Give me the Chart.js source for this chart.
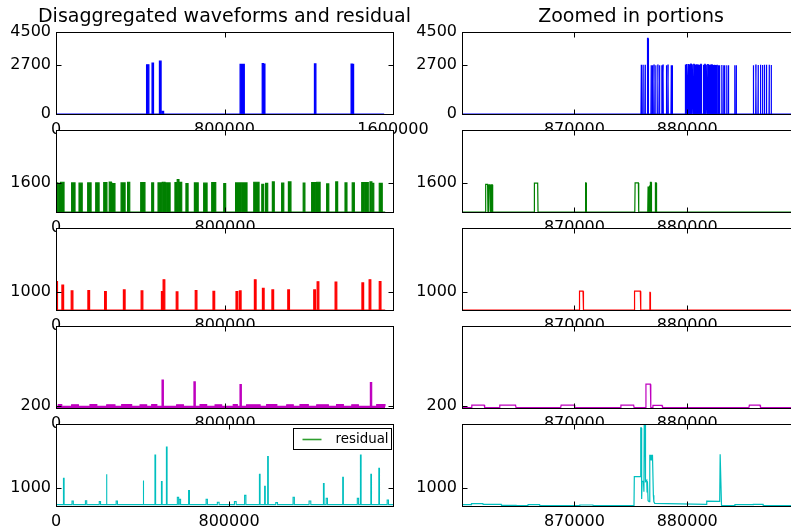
<!DOCTYPE html>
<html>
<head>
<meta charset="utf-8">
<script src="https://cdn.jsdelivr.net/npm/chart.js@4.4.1/dist/chart.umd.min.js"></script>
<style>
  html, body { margin: 0; padding: 0; background: #fff; overflow: hidden; width: 791px; height: 532px; }
  canvas { position: absolute; }
</style>
</head>
<body>
<script>
// ---- tick values ----
const fullXTicks = [0, 800000, 1600000];
const leftXTicks = [0, 800000];
const zoomXTicks = [870000, 880000];
const blueYTicks = [0, 2700, 4500];
const greenYTicks = [1600];
const redYTicks = [1000];
const magentaYTicks = [200];
const residualYTicks = [1000];

// ---- appliance 1 (blue) ----
const blueFullOn  = [430000, 456000, 491000, 505000, 874000, 979000, 986000, 1227000, 1401000, 1408000];
const blueFullOff = [441000, 463000, 499000, 511000, 894000, 985000, 992000, 1234000, 1407000, 1413000];
const blueFullH   = [2700, 2790, 2900, 150, 2720, 2760, 2740, 2750, 2740, 2720];

const blueZoomOn  = [875900, 876060, 876240, 876450, 876780, 876900, 877040, 877190, 877380, 877530, 877730, 877840,
  878140, 878280, 878560, 878660, 879810, 879900, 880060, 880160, 880300, 880420, 880560, 880700, 880820, 880940,
  881060, 881180, 881410, 881540, 881660, 881800, 881920, 882040, 882160, 882280, 882400, 882520, 882620, 882740,
  882840, 883040, 883200, 883300, 883490, 883640, 884200, 884330, 885850, 886070, 886270, 886480, 886660, 886830,
  887010, 887250, 887430];
const blueZoomOff = [875960, 876110, 876300, 876560, 876830, 876940, 877080, 877230, 877420, 877570, 877770, 877880,
  878180, 878320, 878600, 878700, 879860, 880000, 880120, 880260, 880380, 880520, 880640, 880780, 880900, 881020,
  881140, 881270, 881500, 881620, 881760, 881880, 882000, 882120, 882240, 882360, 882480, 882580, 882680, 882800,
  882890, 883100, 883260, 883340, 883530, 883680, 884240, 884370, 885890, 886110, 886310, 886520, 886700, 886870,
  887050, 887290, 887470];
const blueZoomH   = [2700, 2700, 2700, 4150, 2680, 2680, 2680, 2680, 2680, 2680, 2680, 2680,
  2680, 2680, 2680, 2680, 2720, 2740, 2740, 2730, 2740, 2720, 2730, 2720, 2700, 2720,
  2700, 2720, 2700, 2720, 2700, 2710, 2700, 2720, 2700, 2690, 2700, 2690, 2700, 2680,
  2680, 2690, 2680, 2680, 2680, 2680, 2680, 2680, 2680, 2680, 2690, 2700, 2690, 2700,
  2700, 2700, 2690];

// ---- appliance 2 (green) ----
const greenFullOn  = [0, 10000, 22000, 74000, 109000, 150000, 188000, 226000, 252000, 264000, 308000, 339000,
  401000, 453000, 483000, 503000, 521000, 563000, 574000, 587000, 615000, 655000, 699000, 737000, 794000,
  850000, 884000, 936000, 974000, 992000, 1024000, 1068000, 1100000, 1170000, 1210000, 1234000, 1281000,
  1324000, 1368000, 1402000, 1447000, 1466000, 1486000, 1496000, 1530000];
const greenFullOff = [8000, 20000, 38000, 90000, 124000, 166000, 204000, 241000, 262000, 279000, 327000, 349000,
  421000, 462000, 500000, 516000, 540000, 573000, 582000, 595000, 625000, 673000, 715000, 756000, 803000,
  879000, 904000, 961000, 983000, 1002000, 1033000, 1078000, 1112000, 1178000, 1229000, 1250000, 1291000,
  1333000, 1377000, 1412000, 1462000, 1478000, 1495000, 1504000, 1544000];
const greenFullH   = [1600, 1580, 1640, 1600, 1590, 1600, 1600, 1620, 1650, 1570, 1600, 1640,
  1620, 1600, 1600, 1640, 1600, 1620, 1780, 1630, 1570, 1600, 1590, 1620, 1560,
  1600, 1600, 1640, 1530, 1580, 1660, 1590, 1660, 1590, 1620, 1640, 1550,
  1660, 1600, 1600, 1620, 1620, 1660, 1580, 1580];

const greenZoomOn  = [862100, 862400, 862620, 866420, 870960, 875350, 876500, 876620, 876720, 877150];
const greenZoomOff = [862330, 862560, 862750, 866770, 871060, 875700, 876580, 876700, 876830, 877280];
const greenZoomH   = [1520, 1490, 1500, 1590, 1600, 1600, 1410, 1460, 1640, 1600];

// ---- appliance 3 (red) ----
const redFullOn  = [0, 28000, 72000, 151000, 230000, 319000, 403000, 499000, 507000, 569000, 659000, 743000,
  852000, 868000, 939000, 977000, 1022000, 1097000, 1220000, 1236000, 1321000, 1448000, 1482000, 1530000];
const redFullOff = [7000, 36000, 80000, 159000, 238000, 327000, 411000, 507000, 515000, 577000, 667000, 751000,
  860000, 876000, 947000, 985000, 1030000, 1105000, 1228000, 1244000, 1329000, 1456000, 1490000, 1538000];
const redFullH   = [1600, 1400, 1075, 1095, 1040, 1130, 1075, 1040, 1700, 1020, 1095, 1057,
  1040, 1075, 1700, 1226, 1130, 1130, 1130, 1585, 1566, 1528, 1700, 1600];

const redZoomOn  = [870410, 875290, 876650];
const redZoomOff = [870800, 875880, 876740];
const redZoomH   = [1060, 1060, 1000];

// ---- appliance 4 (magenta) ----
const magentaFullOn  = [11000, 74000, 161000, 240000, 311000, 398000, 453000, 502000, 571000, 653000, 682000,
  753000, 839000, 871000, 902000, 997000, 1092000, 1155000, 1234000, 1328000, 1400000, 1488000, 1518000];
const magentaFullOff = [27000, 106000, 193000, 279000, 358000, 429000, 477000, 508000, 603000, 659000, 713000,
  784000, 858000, 877000, 966000, 1045000, 1123000, 1194000, 1289000, 1360000, 1431000, 1494000, 1557000];
const magentaFullH   = [270, 265, 270, 265, 270, 265, 270, 1616, 265, 1523, 270,
  265, 270, 1375, 265, 270, 265, 270, 265, 270, 265, 1485, 270];

const magentaZoomOn  = [860860, 863340, 868780, 874080, 876300, 876920, 885470];
const magentaZoomOff = [862040, 864820, 870030, 875290, 876770, 877810, 886500];
const magentaZoomH   = [250, 245, 250, 250, 1395, 230, 245];

// ---- residual (cyan) ----
const residualFullOn  = [0, 34500, 74000, 136000, 200000, 232500, 278000, 402500, 457500, 487500, 510500, 561000,
  570000, 613000, 694000, 746000, 825000, 872000, 940500, 964500, 978500, 1016000, 1096000, 1170000, 1236500,
  1249000, 1325500, 1393000, 1407500, 1455500, 1492500, 1531000];
const residualFullOff = [3000, 37500, 80000, 142000, 206000, 235500, 284000, 405500, 460500, 490500, 513500, 567000,
  576000, 617000, 700000, 754000, 833000, 878000, 943500, 967500, 981500, 1024000, 1102000, 1178000, 1239500,
  1255000, 1328500, 1399000, 1410500, 1458500, 1495500, 1537000];
const residualFullH   = [900, 1566, 280, 300, 245, 1790, 280, 1430, 2870, 1380, 3320, 490,
  380, 870, 380, 210, 245, 600, 1790, 1110, 2790, 190, 490, 280, 1265,
  435, 1620, 435, 2870, 1790, 2130, 340];

const residualZoomX = [860000, 860850, 860870, 861880, 861900, 863510, 863530, 864840, 864860, 865870, 865890,
  866910, 866930, 870460, 870480, 871640, 871660, 875280, 875310, 875850, 875880, 875930, 875960, 876000,
  876120, 876160, 876190, 876260, 876300, 876410, 876440, 876470, 876530, 876620, 876680, 876740, 876790,
  876850, 876920, 877000, 877040, 877120, 881700, 881730, 882880, 882920, 882990, 883040, 883100, 884210,
  884230, 885840, 885860, 886720, 886740, 890000];
const residualZoomY = [75, 75, 132, 132, 94, 94, 38, 38, 19, 19, 75,
  75, 19, 19, 57, 57, 19, 19, 1660, 1660, 4400, 4400, 400, 1380,
  1400, 800, 4800, 4800, 1380, 1450, 800, 1400, 300, 250, 2850, 2850, 2600,
  2850, 2850, 600, 250, 150, 90, 280, 265, 2920, 2920, 40, 19, 19,
  75, 75, 94, 94, 19, 19];

// build a step trace from pulse lists
function pulseLine(start, end, on, off, peak, base, ramp) {
  const pts = [{x: start, y: base}];
  on.forEach((x0, i) => {
    pts.push({x: x0, y: base}, {x: x0 + ramp, y: peak[i]},
             {x: off[i] - ramp, y: peak[i]}, {x: off[i], y: base});
  });
  pts.push({x: end, y: base});
  return pts;
}

const axesFrame = {
  id: 'axesFrame',
  beforeDraw(chart) {
    const {ctx, chartArea: a} = chart;
    ctx.save();
    ctx.fillStyle = '#fff';
    ctx.fillRect(a.left, a.top, a.right - a.left, a.bottom - a.top);
    ctx.restore();
  },
  afterDraw(chart) {
    const {ctx, chartArea: a, scales: {x, y}} = chart;
    const L = Math.round(a.left) + 0.5, R = Math.round(a.right) + 0.5;
    const T = Math.round(a.top) + 0.5, B = Math.round(a.bottom) + 0.5;
    ctx.save();
    ctx.strokeStyle = '#000';
    ctx.lineWidth = 1;
    ctx.beginPath();
    x.ticks.forEach(t => {
      const p = Math.round(x.getPixelForValue(t.value)) + 0.5;
      ctx.moveTo(p, T); ctx.lineTo(p, T + 5);
      ctx.moveTo(p, B); ctx.lineTo(p, B - 5);
    });
    y.ticks.forEach(t => {
      const p = Math.round(y.getPixelForValue(t.value)) + 0.5;
      ctx.moveTo(L, p); ctx.lineTo(L + 5, p);
      ctx.moveTo(R, p); ctx.lineTo(R - 5, p);
    });
    ctx.stroke();
    ctx.strokeRect(L, T, R - L, B - T);
    // column title, centred over the axes, not squeezed to the axes width
    const title = chart.options.plugins.axesFrame && chart.options.plugins.axesFrame.title;
    if (title) {
      ctx.fillStyle = '#000';
      ctx.font = '19px "DejaVu Sans"';
      ctx.textAlign = 'center';
      ctx.textBaseline = 'alphabetic';
      ctx.fillText(title, (a.left + a.right) / 2, a.top - 10.5);
    }
    ctx.restore();
  }
};

const residualLegend = {
  id: 'residualLegend',
  afterDraw(chart) {
    const {ctx, chartArea: a} = chart;
    const bx = Math.round(a.right - 100.5) + 0.5, by = Math.round(a.top + 4) + 0.5;
    ctx.save();
    ctx.fillStyle = '#fff';
    ctx.fillRect(bx, by, 98, 21);
    ctx.strokeStyle = '#000';
    ctx.lineWidth = 1;
    ctx.strokeRect(bx, by, 98, 21);
    ctx.strokeStyle = '#2e9e2e';
    ctx.lineWidth = 1.6;
    ctx.beginPath();
    ctx.moveTo(bx + 9, by + 11); ctx.lineTo(bx + 28, by + 11);
    ctx.stroke();
    ctx.fillStyle = '#000';
    ctx.font = '13.4px "DejaVu Sans"';
    ctx.textBaseline = 'middle';
    ctx.fillText('residual', bx + 42, by + 11);
    ctx.restore();
  }
};

Chart.defaults.font.family = '"DejaVu Sans", sans-serif';
Chart.defaults.font.size = 16;
Chart.defaults.color = '#000';

function panel(cfg) {
  const cv = document.createElement('canvas');
  cv.width = cfg.w; cv.height = cfg.h;
  cv.style.left = cfg.left + 'px'; cv.style.top = cfg.top + 'px';
  document.body.appendChild(cv);
  const plugins = [axesFrame];
  if (cfg.legend) plugins.push(residualLegend);
  new Chart(cv, {
    type: 'line',
    data: { datasets: [{
      data: cfg.data,
      borderColor: cfg.color,
      backgroundColor: cfg.color,
      borderWidth: cfg.lw || 1.2,
      fill: cfg.fill || false,
      pointRadius: 0,
      tension: 0
    }]},
    options: {
      responsive: false,
      animation: false,
      devicePixelRatio: 1,
      events: [],
      layout: { padding: { top: cfg.padTop, right: cfg.padRight, left: 0, bottom: 0 } },
      plugins: {
        legend: { display: false },
        tooltip: { enabled: false },
        axesFrame: { title: cfg.title }
      },
      scales: {
        x: {
          type: 'linear',
          min: cfg.xMin, max: cfg.xMax,
          grid: { display: false, drawTicks: false },
          border: { display: false },
          afterBuildTicks: s => { s.ticks = cfg.xTicks.map(v => ({value: v})); },
          afterFit: s => { s.height = 26; },
          ticks: { autoSkip: false, maxRotation: 0, minRotation: 0, padding: 6, callback: v => String(v) }
        },
        y: {
          type: 'linear',
          min: cfg.yMin, max: cfg.yMax,
          grid: { display: false, drawTicks: false },
          border: { display: false },
          afterBuildTicks: s => { s.ticks = cfg.yTicks.map(v => ({value: v})); },
          afterFit: s => { s.width = cfg.yw; },
          ticks: { autoSkip: false, padding: 5, callback: v => String(v) }
        }
      }
    },
    plugins
  });
}

const LEFT_MAX = 1595000, RES_MAX = 1558000, ZMIN = 860030, ZMAX = 890000;
const rows = [
  { full: pulseLine(0, RES_MAX, blueFullOn, blueFullOff, blueFullH, 0, 0),
    zoom: pulseLine(ZMIN, ZMAX, blueZoomOn, blueZoomOff, blueZoomH, 0, 30),
    color: '#0000ff', yMin: 0, yMax: 4500, yTicks: blueYTicks, xMax: 1600000, xTicks: fullXTicks, fill: 'origin' },
  { full: pulseLine(0, RES_MAX, greenFullOn, greenFullOff, greenFullH, 0, 0),
    zoom: pulseLine(ZMIN, ZMAX, greenZoomOn, greenZoomOff, greenZoomH, 0, 30),
    color: '#008000', yMin: 0, yMax: 4520, yTicks: greenYTicks, xMax: LEFT_MAX, xTicks: leftXTicks, fill: 'origin' },
  { full: pulseLine(0, RES_MAX, redFullOn, redFullOff, redFullH, 0, 0),
    zoom: pulseLine(ZMIN, ZMAX, redZoomOn, redZoomOff, redZoomH, 0, 40),
    color: '#ff0000', yMin: 0, yMax: 4620, yTicks: redYTicks, xMax: LEFT_MAX, xTicks: leftXTicks, fill: 'origin' },
  { full: pulseLine(0, RES_MAX, magentaFullOn, magentaFullOff, magentaFullH, 180, 0),
    zoom: pulseLine(ZMIN, ZMAX, magentaZoomOn, magentaZoomOff, magentaZoomH, 110, 40),
    color: '#bf00bf', yMin: 90, yMax: 4590, yTicks: magentaYTicks, xMax: LEFT_MAX, xTicks: leftXTicks, fill: 'start' },
  { full: pulseLine(0, RES_MAX, residualFullOn, residualFullOff, residualFullH, 80, 0),
    zoom: residualZoomX.map((x, i) => ({x, y: residualZoomY[i]})),
    color: '#00bfbf', yMin: 0, yMax: 4620, yTicks: residualYTicks, xMax: RES_MAX, xTicks: leftXTicks, fill: false, legend: true }
];

rows.forEach((r, i) => {
  const chartTop = 32 + 98 * i;
  const top = i === 0 ? 0 : chartTop - 16;
  const padTop = chartTop - top;
  const h = padTop + 82 + 26;
  panel({ left: 0, top, w: 438, h, padTop, padRight: 45, yw: 56,
    title: i === 0 ? 'Disaggregated waveforms and residual' : null,
    data: r.full, color: r.color, fill: r.fill, lw: i === 4 ? 1.1 : 1.2,
    xMin: 0, xMax: r.xMax, xTicks: r.xTicks, yMin: r.yMin, yMax: r.yMax, yTicks: r.yTicks, legend: r.legend });
  panel({ left: 400, top, w: 420, h, padTop, padRight: 20, yw: 62,
    title: i === 0 ? 'Zoomed in portions' : null,
    data: r.zoom, color: r.color, fill: false, lw: 1.2,
    xMin: ZMIN, xMax: ZMAX, xTicks: zoomXTicks, yMin: r.yMin, yMax: r.yMax, yTicks: r.yTicks });
});
</script>
</body>
</html>
